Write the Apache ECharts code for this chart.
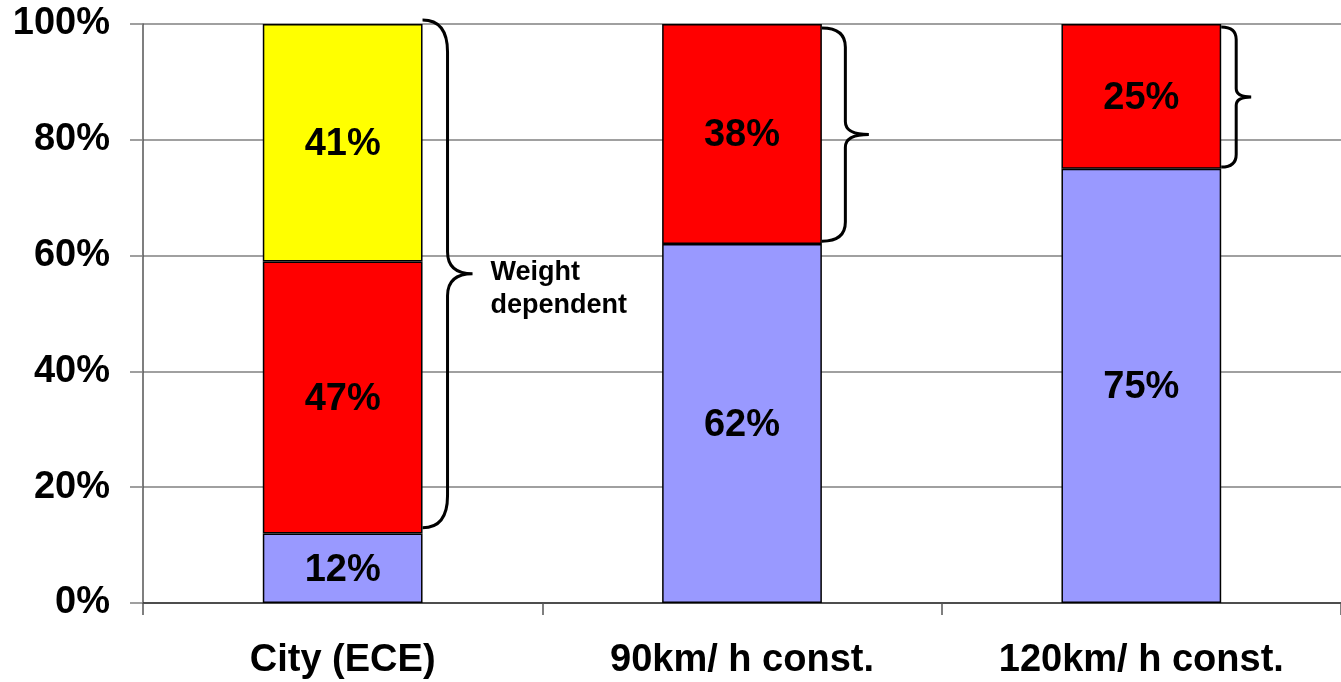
<!DOCTYPE html>
<html>
<head>
<meta charset="utf-8">
<script src="https://cdn.jsdelivr.net/npm/echarts@6/dist/echarts.min.js"></script>
<style>
  html, body { margin: 0; padding: 0; background: #fff; }
  #chart { width: 1341px; height: 682px; }
</style>
</head>
<body>
<div id="chart"></div>
<script>
// Categories and stacked shares (percent of total)
const categories = ['City (ECE)', '90km/ h const.', '120km/ h const.'];
const baseShare = [12, 62, 75];
const weightShare = [47, 38, 25];
const accelShare = [41, null, null];
const yTicks = [0, 20, 40, 60, 80, 100];

// Curly braces marking the weight-dependent part: [low %, high %]
const braceRanges = [[13, 100.7], [62.5, 99.3], [75.3, 99.5]];
const braceNotes = ['Weight\ndependent', '', ''];

const FONT = '"Liberation Sans", Arial, sans-serif';
const braceDepth = [50, 47, 30];

const chart = echarts.init(document.getElementById('chart'), null, { renderer: 'canvas' });

const barLabel = {
  show: true,
  position: 'inside',
  color: '#000',
  fontFamily: FONT,
  fontWeight: 'bold',
  fontSize: 38,
  offset: [0, 2],
  formatter: p => p.value + '%'
};

function barSeries(name, data, color) {
  return {
    name, type: 'bar', stack: 'total', data,
    barWidth: '40%',
    itemStyle: { color, borderColor: '#000', borderWidth: 1.5 },
    label: barLabel,
    emphasis: { disabled: true }
  };
}

function renderBrace(params, api) {
  const i = api.value(0);
  const lo = api.value(1), hi = api.value(2);
  const catW = api.size([1, 0])[0];
  const top = api.coord([i, hi]);
  const bot = api.coord([i, lo]);
  const x0 = top[0] + catW * 0.2;
  const y0 = top[1], y1 = bot[1];
  const ym = (y0 + y1) / 2;
  const d = braceDepth[params.dataIndex];
  const xv = x0 + d * 0.5;
  const xt = x0 + d;
  const hh = (y1 - y0) / 2;
  const rEnd = Math.min(32, hh * 0.18);
  const rMid = Math.min(22, hh * 0.12);
  const path = [
    'M', x0, y0,
    'Q', xv, y0, xv, y0 + rEnd,
    'L', xv, ym - rMid,
    'Q', xv, ym, xt, ym,
    'Q', xv, ym, xv, ym + rMid,
    'L', xv, y1 - rEnd,
    'Q', xv, y1, x0, y1
  ].join(' ');
  const children = [{
    type: 'path',
    shape: { pathData: path },
    style: { stroke: '#000', lineWidth: 3, fill: null }
  }];
  const note = braceNotes[params.dataIndex];
  if (note) {
    children.push({
      type: 'text',
      style: {
        text: note, x: xt + 18, y: ym + 15,
        fill: '#000', font: 'bold 27px ' + FONT,
        verticalAlign: 'middle', align: 'left', lineHeight: 33
      }
    });
  }
  return { type: 'group', children };
}

chart.setOption({
  animation: false,
  backgroundColor: '#fff',
  grid: { left: 143, right: -2, top: 24, bottom: 79, containLabel: false },
  xAxis: {
    type: 'category',
    data: categories,
    axisLine: { lineStyle: { color: '#333', width: 1.5 } },
    axisTick: { show: true, length: 12, lineStyle: { color: '#555', width: 1.5 } },
    axisLabel: { color: '#000', fontFamily: FONT, fontWeight: 'bold', fontSize: 38, margin: 39 }
  },
  yAxis: {
    type: 'value',
    min: yTicks[0], max: yTicks[yTicks.length - 1], interval: 20,
    axisLine: { show: true, lineStyle: { color: '#555', width: 1.5 } },
    axisTick: { show: true, length: 13, lineStyle: { color: '#808080', width: 1.5 } },
    splitLine: { lineStyle: { color: '#808080', width: 1.5 } },
    axisLabel: { color: '#000', fontFamily: FONT, fontWeight: 'bold', fontSize: 38, margin: 33, formatter: '{value}%' }
  },
  series: [
    barSeries('Base', baseShare, '#9999FF'),
    barSeries('Weight', weightShare, '#FF0000'),
    barSeries('Acceleration', accelShare, '#FFFF00'),
    {
      type: 'custom',
      renderItem: renderBrace,
      data: braceRanges.map((r, i) => [i, r[0], r[1]]),
      z: 10,
      silent: true
    }
  ]
});
</script>
</body>
</html>
